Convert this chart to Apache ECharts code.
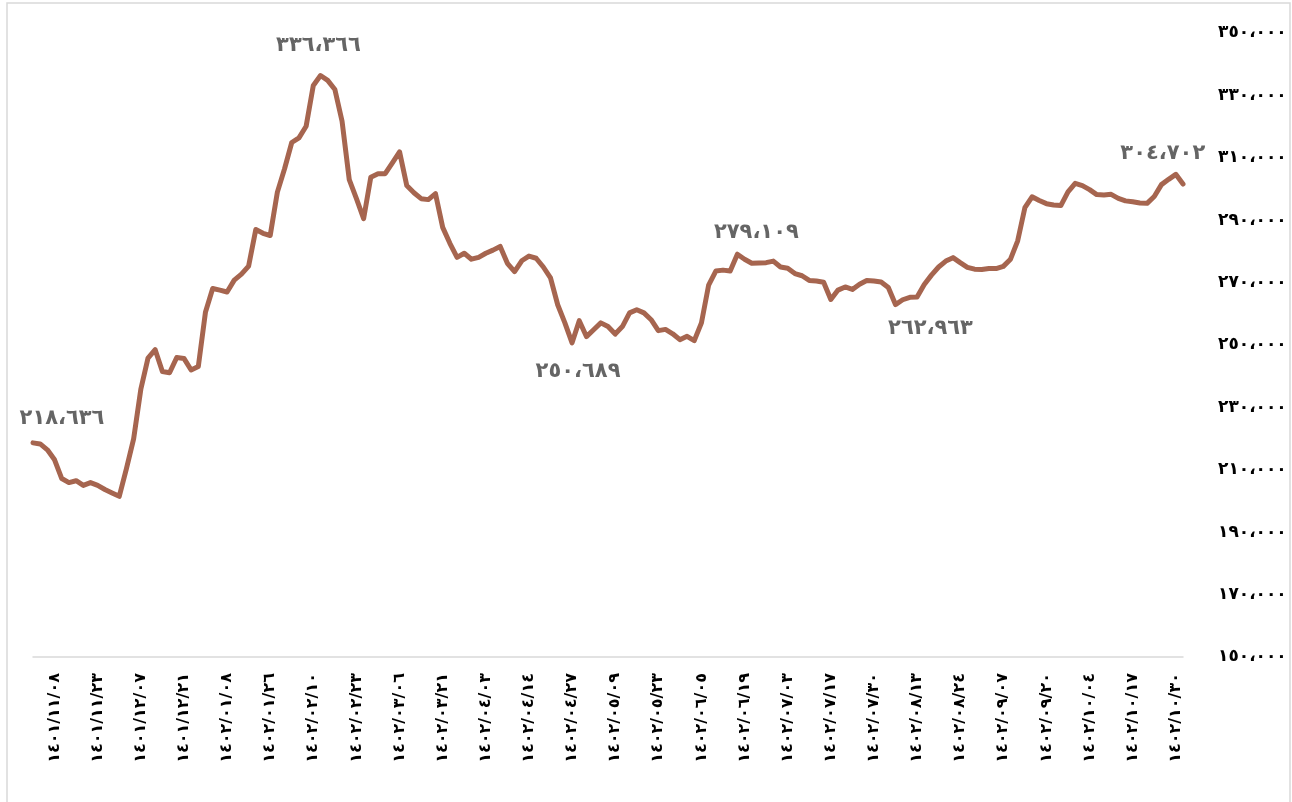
<!DOCTYPE html>
<html>
<head>
<meta charset="utf-8">
<script src="https://cdn.jsdelivr.net/npm/echarts@6/dist/echarts.min.js"></script>
<style>
    html, body { margin: 0; padding: 0; background: #fff; }
    #chart { width: 1292px; height: 802px; }
</style>
</head>
<body>
<div id="chart"></div>
<script>
// برچسب‌های محور افقی (هر ۶ نقطه یک برچسب)
const tickLabels = [
    '١٤٠١/١١/٠٨', '١٤٠١/١١/٢٣', '١٤٠١/١٢/٠٧', '١٤٠١/١٢/٢١', '١٤٠٢/٠١/٠٨',
    '١٤٠٢/٠١/٢٦', '١٤٠٢/٠٢/١٠', '١٤٠٢/٠٢/٢٣', '١٤٠٢/٠٣/٠٦', '١٤٠٢/٠٣/٢١',
    '١٤٠٢/٠٤/٠٣', '١٤٠٢/٠٤/١٤', '١٤٠٢/٠٤/٢٧', '١٤٠٢/٠٥/٠٩', '١٤٠٢/٠٥/٢٣',
    '١٤٠٢/٠٦/٠٥', '١٤٠٢/٠٦/١٩', '١٤٠٢/٠٧/٠٣', '١٤٠٢/٠٧/١٧', '١٤٠٢/٠٧/٣٠',
    '١٤٠٢/٠٨/١٣', '١٤٠٢/٠٨/٢٤', '١٤٠٢/٠٩/٠٧', '١٤٠٢/٠٩/٢٠', '١٤٠٢/١٠/٠٤',
    '١٤٠٢/١٠/١٧', '١٤٠٢/١٠/٣٠'
];
const labelStep = 6;
const labelStart = 3;

// مقادیر شاخص
const values = [
    218636, 218300, 216400, 213200, 207200, 205900, 206500, 205000, 205900, 205000,
    203700, 202600, 201500, 210400, 219900, 235800, 245800, 248500, 241500, 241100,
    246000, 245700, 242000, 243100, 260600, 268100, 267600, 267000, 270800, 272700,
    275300, 287000, 285800, 285100, 299000, 306500, 314900, 316400, 320100, 333200,
    336366, 334800, 331900, 321700, 303000, 296900, 290500, 303800, 304900, 304900,
    308400, 311900, 301100, 298800, 296900, 296600, 298500, 287700, 282600, 278100,
    279400, 277500, 278100, 279400, 280400, 281600, 276200, 273500, 277000, 278500,
    277800, 275000, 271500, 262900, 257100, 250689, 257800, 252700, 254900, 257100,
    255900, 253500, 255900, 260300, 261300, 260300, 258100, 254600, 255000, 253600,
    251700, 252800, 251400, 257100, 269200, 273700, 274000, 273700, 279109, 277500,
    276200, 276300, 276400, 276900, 275000, 274600, 272900, 272200, 270700, 270500,
    270100, 264600, 267600, 268600, 267800, 269500, 270700, 270500, 270200, 268400,
    262963, 264500, 265300, 265400, 269400, 272400, 275000, 276900, 278000, 276400,
    274900, 274300, 274200, 274500, 274500, 275200, 277500, 283400, 294000, 297500,
    296300, 295300, 294900, 294700, 299100, 301800, 301100, 299800, 298200, 298100,
    298300, 297000, 296200, 295900, 295500, 295400, 297600, 301400, 303100, 304702,
    301600
];

// نقاطی که مقدارشان نوشته شده است
const labeledPoints = [0, 40, 75, 98, 120, 159];

const toArabic = (n) => Number(n).toLocaleString('en-US')
    .replace(/[0-9]/g, d => '٠١٢٣٤٥٦٧٨٩'[d])
    .replace(/,/g, '،');

const categories = values.map((v, i) => {
    const k = i - labelStart;
    return (k >= 0 && k % labelStep === 0) ? tickLabels[k / labelStep] : '';
});

// جای برچسب‌ها نسبت به نقطه
const labelPlace = {
    0: { position: 'top', offset: [29, -8] },
    40: { position: 'top', offset: [-2, -14] },
    75: { position: 'bottom', offset: [6, 13] },
    98: { position: 'top', offset: [19, -6] },
    120: { position: 'bottom', offset: [35, 8] },
    159: { position: 'top', offset: [-13, -5] }
};

const labelData = labeledPoints.map(i => ({
    value: [i, values[i]],
    label: labelPlace[i]
}));

const chart = echarts.init(document.getElementById('chart'));

const option = {
    backgroundColor: '#fff',
    animation: false,
    graphic: [{
        type: 'rect',
        shape: { x: 7, y: 3, width: 1283, height: 820 },
        style: { fill: 'none', stroke: '#D9D9D9', lineWidth: 1.5 },
        silent: true
    }],
    grid: {
        left: 33,
        right: 109,
        top: 33,
        bottom: 145
    },
    xAxis: {
        type: 'category',
        data: categories,
        boundaryGap: false,
        axisLine: { lineStyle: { color: '#D9D9D9', width: 1.5 } },
        axisTick: { show: false },
        axisLabel: {
            interval: (idx) => idx >= labelStart && (idx - labelStart) % labelStep === 0,
            rotate: 90,
            margin: 16,
            color: '#000',
            fontSize: 16,
            fontWeight: 'bold',
            fontFamily: 'DejaVu Sans'
        },
        splitLine: { show: false }
    },
    yAxis: {
        type: 'value',
        position: 'right',
        min: 150000,
        max: 350000,
        interval: 20000,
        axisLine: { show: false },
        axisTick: { show: false },
        splitLine: { show: false },
        axisLabel: {
            margin: 35,
            color: '#000',
            fontSize: 17,
            fontWeight: 'bold',
            fontFamily: 'DejaVu Sans',
            formatter: v => toArabic(v)
        }
    },
    series: [{
        type: 'line',
        data: values,
        showSymbol: false,
        smooth: false,
        lineStyle: { color: '#A6654F', width: 5, join: 'round', cap: 'round' },
        itemStyle: { color: '#A6654F' },
        z: 3
    }, {
        // برچسب مقادیر
        type: 'scatter',
        data: labelData,
        symbolSize: 1,
        itemStyle: { color: 'rgba(0,0,0,0)' },
        label: {
            show: true,
            formatter: p => toArabic(p.value[1]),
            color: '#3F3F3F',
            fontSize: 21,
            fontWeight: 'bold',
            fontFamily: 'DejaVu Sans'
        },
        z: 4
    }]
};

chart.setOption(option);
</script>
</body>
</html>
